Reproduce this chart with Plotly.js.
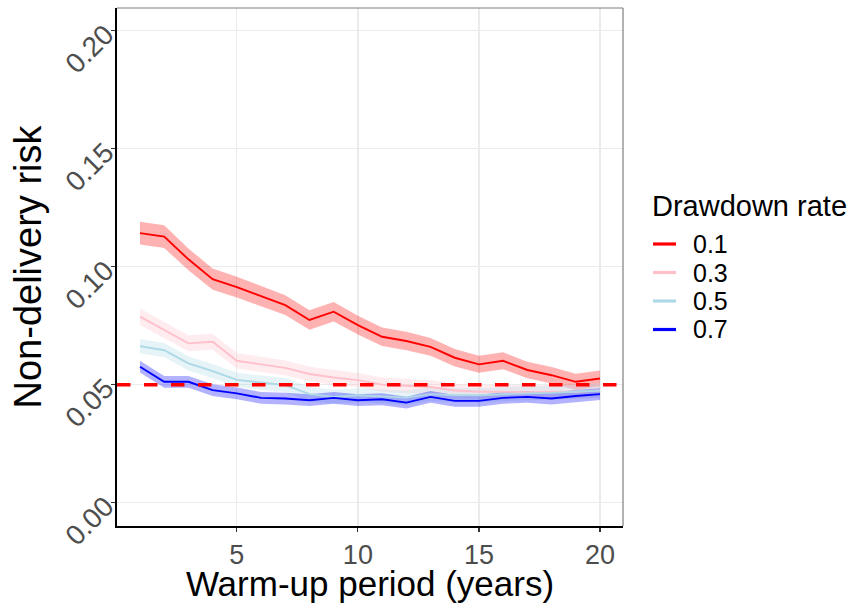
<!DOCTYPE html>
<html>
<head>
<meta charset="utf-8">
<script src="https://cdn.plot.ly/plotly-3.0.1.min.js"></script>
<style>html,body{margin:0;padding:0;background:#fff;}#chart{width:850px;height:603px;}</style>
</head>
<body>
<div id="chart"></div>
<script>
const years = [1,2,3,4,5,6,7,8,9,10,11,12,13,14,15,16,17,18,19,20];
const rateLabels = ['0.1','0.3','0.5','0.7'];
const rateColors = ['#FF0000','#FFC0CB','#ADD8E6','#0000FF'];
const rateFills = ['rgba(255,0,0,0.3)','rgba(255,192,203,0.3)','rgba(173,216,230,0.3)','rgba(0,0,255,0.3)'];

const risk01 = [0.1142,0.1127,0.1031,0.0947,0.0913,0.0876,0.0837,0.0774,0.0809,0.0752,0.0703,0.0685,0.0660,0.0614,0.0586,0.0601,0.0562,0.0540,0.0512,0.0526];
const risk01Hi = [0.1190,0.1175,0.1077,0.0992,0.0957,0.0919,0.0879,0.0815,0.0850,0.0792,0.0742,0.0724,0.0698,0.0651,0.0622,0.0637,0.0597,0.0575,0.0546,0.0560];
const risk01Lo = [0.1094,0.1079,0.0985,0.0902,0.0869,0.0833,0.0795,0.0733,0.0768,0.0712,0.0664,0.0646,0.0622,0.0577,0.0550,0.0565,0.0527,0.0505,0.0478,0.0492];

const risk03 = [0.0788,0.0732,0.0675,0.0682,0.0601,0.0586,0.0571,0.0545,0.0530,0.0519,0.0500,0.0495,0.0490,0.0475,0.0470,0.0470,0.0468,0.0470,0.0470,0.0475];
const risk03Hi = [0.0823,0.0767,0.0709,0.0716,0.0634,0.0618,0.0602,0.0576,0.0561,0.0549,0.0530,0.0525,0.0519,0.0504,0.0499,0.0499,0.0497,0.0499,0.0499,0.0504];
const risk03Lo = [0.0753,0.0697,0.0641,0.0648,0.0568,0.0554,0.0540,0.0514,0.0499,0.0489,0.0470,0.0465,0.0461,0.0446,0.0441,0.0441,0.0439,0.0441,0.0441,0.0446];

const risk05 = [0.0663,0.0646,0.0590,0.0557,0.0520,0.0508,0.0498,0.0460,0.0448,0.0455,0.0450,0.0445,0.0460,0.0455,0.0455,0.0460,0.0463,0.0465,0.0470,0.0475];
const risk05Hi = [0.0693,0.0676,0.0620,0.0587,0.0550,0.0538,0.0528,0.0490,0.0478,0.0485,0.0480,0.0475,0.0490,0.0485,0.0485,0.0490,0.0493,0.0495,0.0500,0.0505];
const risk05Lo = [0.0633,0.0616,0.0560,0.0527,0.0490,0.0478,0.0468,0.0430,0.0418,0.0425,0.0420,0.0415,0.0430,0.0425,0.0425,0.0430,0.0433,0.0435,0.0440,0.0445];

const risk07 = [0.0576,0.0512,0.0512,0.0477,0.0463,0.0444,0.0441,0.0434,0.0444,0.0434,0.0438,0.0424,0.0448,0.0431,0.0431,0.0444,0.0448,0.0441,0.0452,0.0460];
const risk07Hi = [0.0601,0.0537,0.0537,0.0502,0.0488,0.0469,0.0466,0.0459,0.0469,0.0459,0.0463,0.0449,0.0473,0.0456,0.0456,0.0469,0.0473,0.0466,0.0477,0.0485];
const risk07Lo = [0.0551,0.0487,0.0487,0.0452,0.0438,0.0419,0.0416,0.0409,0.0419,0.0409,0.0413,0.0399,0.0423,0.0406,0.0406,0.0419,0.0423,0.0416,0.0427,0.0435];

const threshold = 0.05;
const xTicks = [5,10,15,20];
const yTicks = [0,0.05,0.10,0.15,0.20];
const yTickText = ['0.00','0.05','0.10','0.15','0.20'];
const legendTitle = 'Drawdown rate';

const means = [risk01, risk03, risk05, risk07];
const his = [risk01Hi, risk03Hi, risk05Hi, risk07Hi];
const los = [risk01Lo, risk03Lo, risk05Lo, risk07Lo];

const traces = [];
for (let i = 0; i < 4; i++) {
  traces.push({
    x: years.concat(years.slice().reverse()),
    y: his[i].concat(los[i].slice().reverse()),
    type: 'scatter', mode: 'lines', fill: 'toself',
    fillcolor: rateFills[i], line: {width: 0, color: 'rgba(0,0,0,0)'},
    showlegend: false, hoverinfo: 'skip'
  });
}
for (let i = 0; i < 4; i++) {
  traces.push({
    x: years, y: means[i], type: 'scatter', mode: 'lines',
    name: rateLabels[i], line: {color: rateColors[i], width: 1.9}, showlegend: false
  });
}

// plot area in pixels (for the hand-drawn legend placement)
const W = 850, H = 603, mL = 117, mR = 227, mT = 8, mB = 77;
const pw = W - mL - mR, ph = H - mT - mB;
const px = v => (v - mL) / pw;
const py = v => (H - mB - v) / ph;

const font = 'Liberation Sans, Arial, sans-serif';
const shapes = [
  {type: 'line', xref: 'paper', yref: 'paper', x0: 0, x1: 1, y0: 1, y1: 1, line: {color: '#7F7F7F', width: 1.2}},
  {type: 'line', xref: 'paper', yref: 'paper', x0: 1, x1: 1, y0: 0, y1: 1, line: {color: '#7F7F7F', width: 1.2}},
  {type: 'line', xref: 'paper', yref: 'y', x0: 0, x1: 1, y0: threshold, y1: threshold,
   line: {color: '#FF0000', width: 3.5, dash: '13.5px,13.5px'}}
];
const annotations = [
  {xref: 'paper', yref: 'paper', x: px(650), y: py(206), text: legendTitle, showarrow: false,
   xanchor: 'left', yanchor: 'middle', font: {size: 29, color: '#000', family: font}}
];
const itemY = [244, 272.5, 301, 329.5];
for (let i = 0; i < rateLabels.length; i++) {
  shapes.push({type: 'line', xref: 'paper', yref: 'paper', x0: px(653), x1: px(676), y0: py(itemY[i]), y1: py(itemY[i]),
    line: {color: rateColors[i], width: 3.2}});
  annotations.push({xref: 'paper', yref: 'paper', x: px(691), y: py(itemY[i]), text: rateLabels[i], showarrow: false,
    xanchor: 'left', yanchor: 'middle', font: {size: 25, color: '#000', family: font}});
}

const layout = {
  width: W, height: H,
  margin: {l: mL, r: mR, t: mT, b: mB},
  paper_bgcolor: '#fff', plot_bgcolor: '#fff',
  font: {family: font},
  showlegend: false,
  xaxis: {
    range: [0.05, 20.95], tickvals: xTicks, ticks: 'outside', ticklen: 4,
    tickcolor: '#333', tickwidth: 1.2, showline: true, linecolor: '#000', linewidth: 1.8,
    gridcolor: '#EBEBEB', gridwidth: 1.3, zeroline: false,
    tickfont: {size: 27, color: '#4D4D4D', family: font},
    title: {text: 'Warm-up period (years)', font: {size: 35, color: '#000', family: font}, standoff: 1}
  },
  yaxis: {
    range: [-0.0099, 0.2096], tickvals: yTicks, ticktext: yTickText, tickangle: -45,
    ticks: 'outside', ticklen: 4, tickcolor: '#333', tickwidth: 1.2,
    showline: true, linecolor: '#000', linewidth: 1.8,
    gridcolor: '#EBEBEB', gridwidth: 1.3, zeroline: false,
    tickfont: {size: 28, color: '#4D4D4D', family: font},
    title: {text: 'Non-delivery risk', font: {size: 38, color: '#000', family: font}, standoff: 6}
  },
  shapes: shapes,
  annotations: annotations
};

Plotly.newPlot('chart', traces, layout, {displayModeBar: false, staticPlot: true});
</script>
</body>
</html>
